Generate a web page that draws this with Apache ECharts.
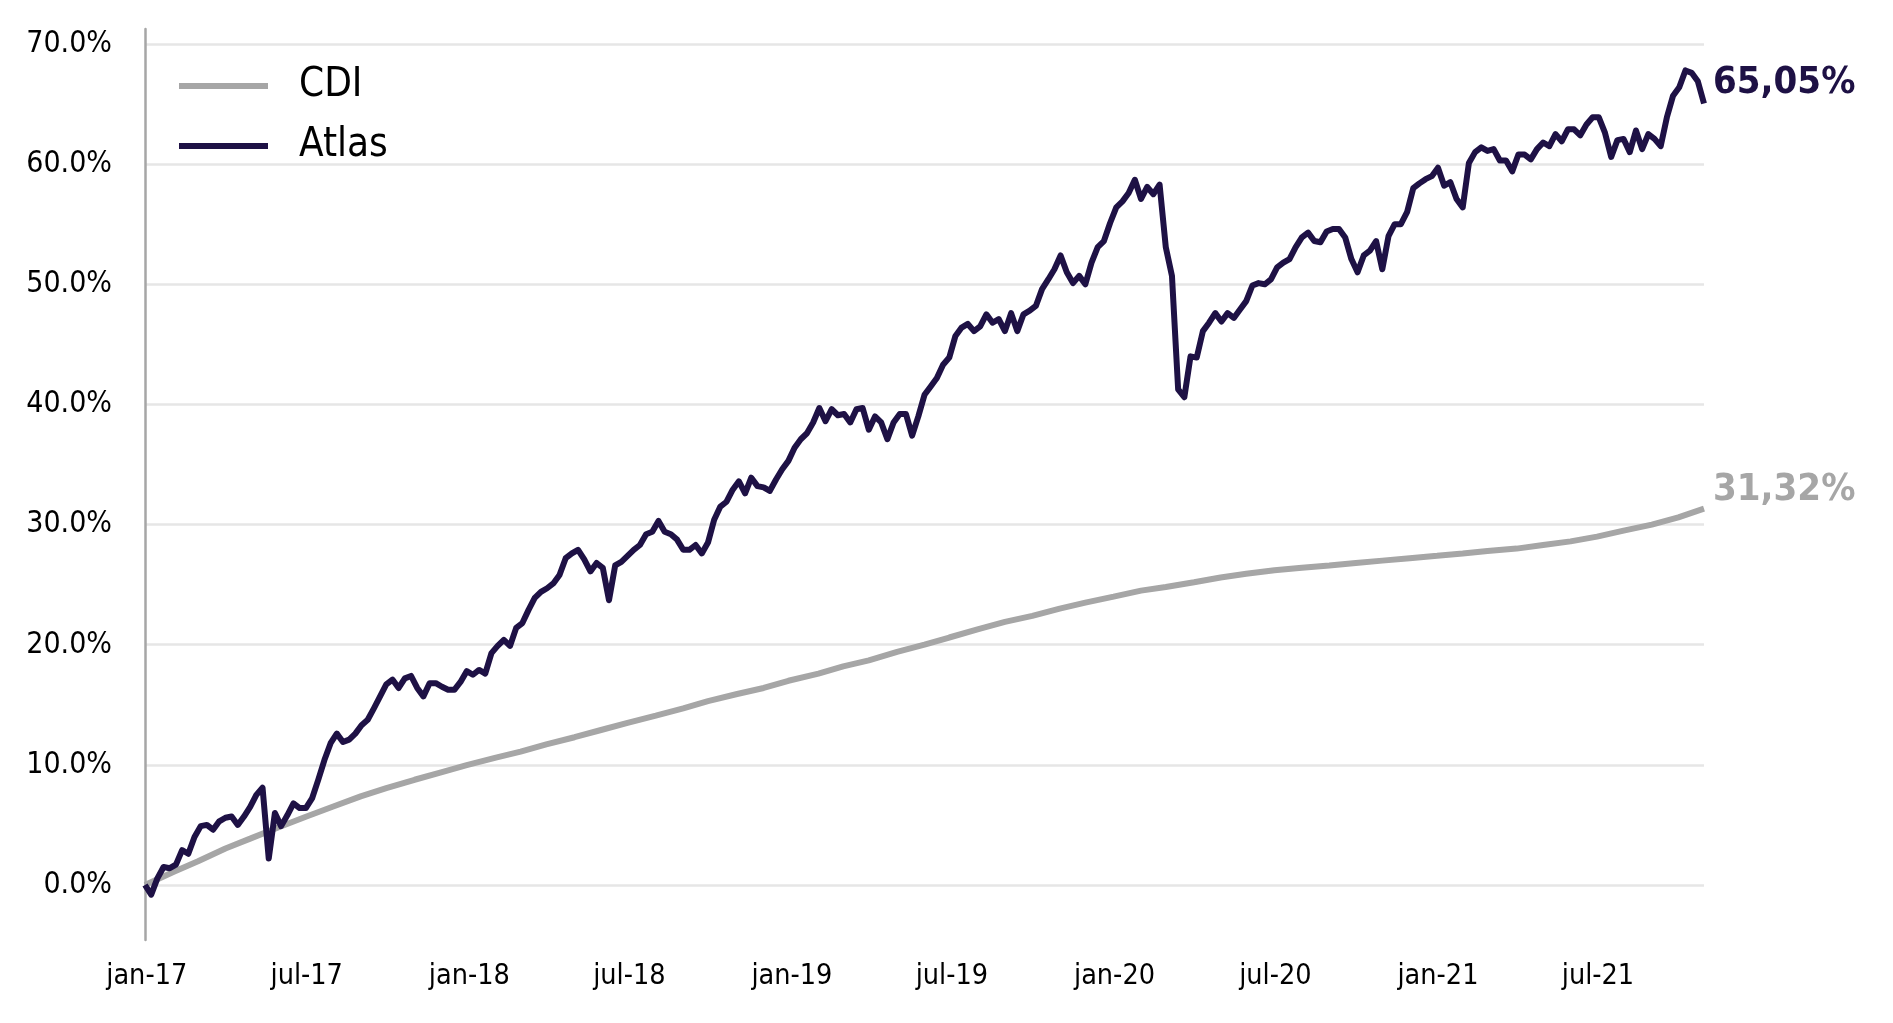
<!DOCTYPE html>
<html>
<head>
<meta charset="utf-8">
<script src="https://cdn.jsdelivr.net/npm/echarts@6/dist/echarts.min.js"></script>
<style>
html, body { margin: 0; padding: 0; background: #fff; }
#chart { width: 1893px; height: 1023px; }
</style>
</head>
<body>
<div id="chart"></div>
<script>
// weekly closes (Fridays) starting 30/12/2016
var startDate = [2016, 11, 30];
var atlas = [
	0, -0.8, 0.55, 1.5, 1.4, 1.7, 2.9, 2.6, 4.0, 4.9,
	5.0, 4.6, 5.3, 5.6, 5.7, 5.0, 5.7, 6.5, 7.5, 8.1,
	2.2, 6.0, 4.9, 5.8, 6.8, 6.4, 6.4, 7.2, 8.75, 10.4,
	11.8, 12.6, 11.9, 12.1, 12.6, 13.3, 13.75, 14.7, 15.7, 16.7,
	17.1, 16.4, 17.2, 17.4, 16.4, 15.7, 16.8, 16.8, 16.5, 16.25,
	16.25, 16.9, 17.8, 17.5, 17.9, 17.6, 19.3, 19.9, 20.4, 19.9,
	21.4, 21.8, 22.9, 23.9, 24.4, 24.7, 25.1, 25.8, 27.2, 27.6,
	27.9, 27.1, 26.1, 26.8, 26.4, 23.7, 26.6, 26.9, 27.4, 27.9,
	28.3, 29.2, 29.4, 30.3, 29.4, 29.2, 28.75, 27.9, 27.9, 28.3,
	27.6, 28.5, 30.4, 31.5, 31.9, 32.9, 33.6, 32.6, 33.9, 33.2,
	33.1, 32.8, 33.75, 34.6, 35.3, 36.4, 37.1, 37.6, 38.5, 39.7,
	38.6, 39.6, 39.1, 39.2, 38.5, 39.6, 39.7, 37.9, 39.0, 38.5,
	37.1, 38.5, 39.2, 39.2, 37.4, 39.0, 40.8, 41.5, 42.2, 43.3,
	43.9, 45.7, 46.4, 46.7, 46.1, 46.5, 47.5, 46.8, 47.1, 46.1,
	47.6, 46.1, 47.5, 47.8, 48.2, 49.6, 50.4, 51.25, 52.4, 51.0,
	50.1, 50.7, 50.0, 51.8, 53.1, 53.6, 55.1, 56.4, 56.9, 57.6,
	58.7, 57.1, 58.1, 57.5, 58.3, 53.1, 50.7, 41.25, 40.6, 44.0,
	43.9, 46.1, 46.8, 47.6, 46.9, 47.6, 47.2, 47.9, 48.6, 49.9,
	50.1, 50.0, 50.4, 51.4, 51.8, 52.1, 53.1, 53.9, 54.3, 53.6,
	53.5, 54.4, 54.6, 54.6, 53.9, 52.1, 51.0, 52.4, 52.8, 53.6,
	51.25, 54.0, 55.0, 55.0, 56.0, 58.0, 58.4, 58.75, 59.0, 59.7,
	58.2, 58.5, 57.1, 56.4, 60.1, 61.0, 61.4, 61.1, 61.25, 60.3,
	60.3, 59.4, 60.8, 60.8, 60.4, 61.25, 61.8, 61.5, 62.5, 61.9,
	62.9, 62.9, 62.4, 63.3, 63.9, 63.9, 62.6, 60.6, 62.0, 62.1,
	61.0, 62.8, 61.25, 62.5, 62.1, 61.5, 63.9, 65.7, 66.4, 67.8,
	67.6, 66.9, 65.05
];

var cdiDates = [
	'2016-12-30',
	'2017-01-31', '2017-02-28', '2017-03-31', '2017-04-28', '2017-05-31', '2017-06-30',
	'2017-07-31', '2017-08-31', '2017-09-29', '2017-10-31', '2017-11-30', '2017-12-29',
	'2018-01-31', '2018-02-28', '2018-03-29', '2018-04-30', '2018-05-30', '2018-06-29',
	'2018-07-31', '2018-08-31', '2018-09-28', '2018-10-31', '2018-11-30', '2018-12-28',
	'2019-01-31', '2019-02-28', '2019-03-29', '2019-04-30', '2019-05-31', '2019-06-28',
	'2019-07-31', '2019-08-30', '2019-09-30', '2019-10-31', '2019-11-29', '2019-12-31',
	'2020-01-31', '2020-02-28', '2020-03-31', '2020-04-30', '2020-05-29', '2020-06-30',
	'2020-07-31', '2020-08-31', '2020-09-30', '2020-10-30', '2020-11-30', '2020-12-31',
	'2021-01-29', '2021-02-26', '2021-03-31', '2021-04-30', '2021-05-31', '2021-06-30',
	'2021-07-30', '2021-08-31', '2021-09-30', '2021-10-29'
];
var cdi = [
	0,
	1.09, 1.97, 3.04, 3.86, 4.83, 5.68, 6.53, 7.38, 8.07, 8.76, 9.38, 9.97,
	10.6, 11.1, 11.7, 12.3, 12.9, 13.5, 14.1, 14.7, 15.3, 15.9, 16.4, 17.0,
	17.6, 18.2, 18.7, 19.4, 20.0, 20.6, 21.3, 21.9, 22.4, 23.0, 23.5, 24.0,
	24.5, 24.8, 25.2, 25.6, 25.9, 26.2, 26.4, 26.6, 26.8, 27.0, 27.2, 27.4,
	27.6, 27.8, 28.0, 28.3, 28.6, 29.0, 29.5, 30.0, 30.6, 31.32
];

var tickDates = ['2017-01-01', '2017-07-01', '2018-01-01', '2018-07-01', '2019-01-01',
	'2019-07-01', '2020-01-01', '2020-07-01', '2021-01-01', '2021-07-01'];
var tickLabels = ['jan-17', 'jul-17', 'jan-18', 'jul-18', 'jan-19',
	'jul-19', 'jan-20', 'jul-20', 'jan-21', 'jul-21'];

var font = "'DejaVu Sans Condensed', 'DejaVu Sans', sans-serif";
var cdiColor = '#a6a6a6';
var atlasColor = '#1e1145';

function toTime(s) {
	return echarts.time.parse(s).getTime();
}

var atlasData = [];
for (var i = 0; i < atlas.length; i++) {
	var d = new Date(startDate[0], startDate[1], startDate[2] + 7 * i);
	atlasData.push([d.getTime(), atlas[i]]);
}
var cdiData = [];
for (var j = 0; j < cdi.length; j++) {
	cdiData.push([toTime(cdiDates[j]), cdi[j]]);
}
var tickTimes = tickDates.map(toTime);

function endText(p) {
	return p.value[1].toFixed(2).replace('.', ',') + '%';
}

var chart = echarts.init(document.getElementById('chart'));
chart.setOption({
	animation: false,
	backgroundColor: '#fff',
	grid: [
		{ left: 145, right: 189, top: 44, bottom: 138 },
		{ left: 145, right: 189, top: 29, bottom: 83 }
	],
	legend: {
		orient: 'vertical',
		left: 179,
		top: 66,
		padding: 0,
		icon: 'rect',
		itemWidth: 89,
		itemHeight: 6,
		itemGap: 20,
		data: ['CDI', 'Atlas'],
		textStyle: { fontSize: 40, lineHeight: 40, color: '#000', fontFamily: font, padding: [0, 0, 0, 26] }
	},
	xAxis: [
		{
			type: 'value',
			gridIndex: 0,
			min: atlasData[0][0],
			max: atlasData[atlasData.length - 1][0],
			axisLine: { show: false },
			axisTick: { show: false },
			splitLine: { show: false },
			axisLabel: {
				customValues: tickTimes,
				margin: 77,
				fontSize: 28.5,
				color: '#000',
				fontFamily: font,
				formatter: function (value) {
					var k = tickTimes.indexOf(value);
					return k >= 0 ? tickLabels[k] : '';
				}
			}
		},
		{ type: 'value', gridIndex: 1, min: 0, max: 1, show: false }
	],
	yAxis: [
		{
			type: 'value',
			gridIndex: 0,
			min: 0,
			max: 70,
			interval: 10,
			axisLine: { show: false },
			axisTick: { show: false },
			axisLabel: {
				margin: 33,
				fontSize: 30,
				color: '#000',
				fontFamily: font,
				formatter: function (v) { return v.toFixed(1) + '%'; }
			},
			splitLine: { lineStyle: { color: '#e6e6e6', width: 2.5 } }
		},
		{
			type: 'value',
			gridIndex: 1,
			min: 0,
			max: 1,
			axisLine: { show: true, onZero: false, lineStyle: { color: '#a6a6a6', width: 2.5 } },
			axisTick: { show: false },
			axisLabel: { show: false },
			splitLine: { show: false }
		}
	],
	series: [
		{
			name: 'CDI',
			type: 'line',
			data: cdiData,
			symbol: 'none',
			clip: false,
			lineStyle: { color: cdiColor, width: 6 },
			itemStyle: { color: cdiColor },
			endLabel: {
				show: true,
				formatter: endText,
				distance: 9,
				offset: [0, -19],
				fontSize: 38,
				fontWeight: 'bold',
				fontFamily: font,
				color: cdiColor
			},
			z: 2
		},
		{
			name: 'Atlas',
			type: 'line',
			data: atlasData,
			symbol: 'none',
			clip: false,
			lineStyle: { color: atlasColor, width: 6, join: 'round' },
			itemStyle: { color: atlasColor },
			endLabel: {
				show: true,
				formatter: endText,
				distance: 9,
				offset: [0, -20],
				fontSize: 38,
				fontWeight: 'bold',
				fontFamily: font,
				color: atlasColor
			},
			z: 3
		}
	]
});
</script>
</body>
</html>
